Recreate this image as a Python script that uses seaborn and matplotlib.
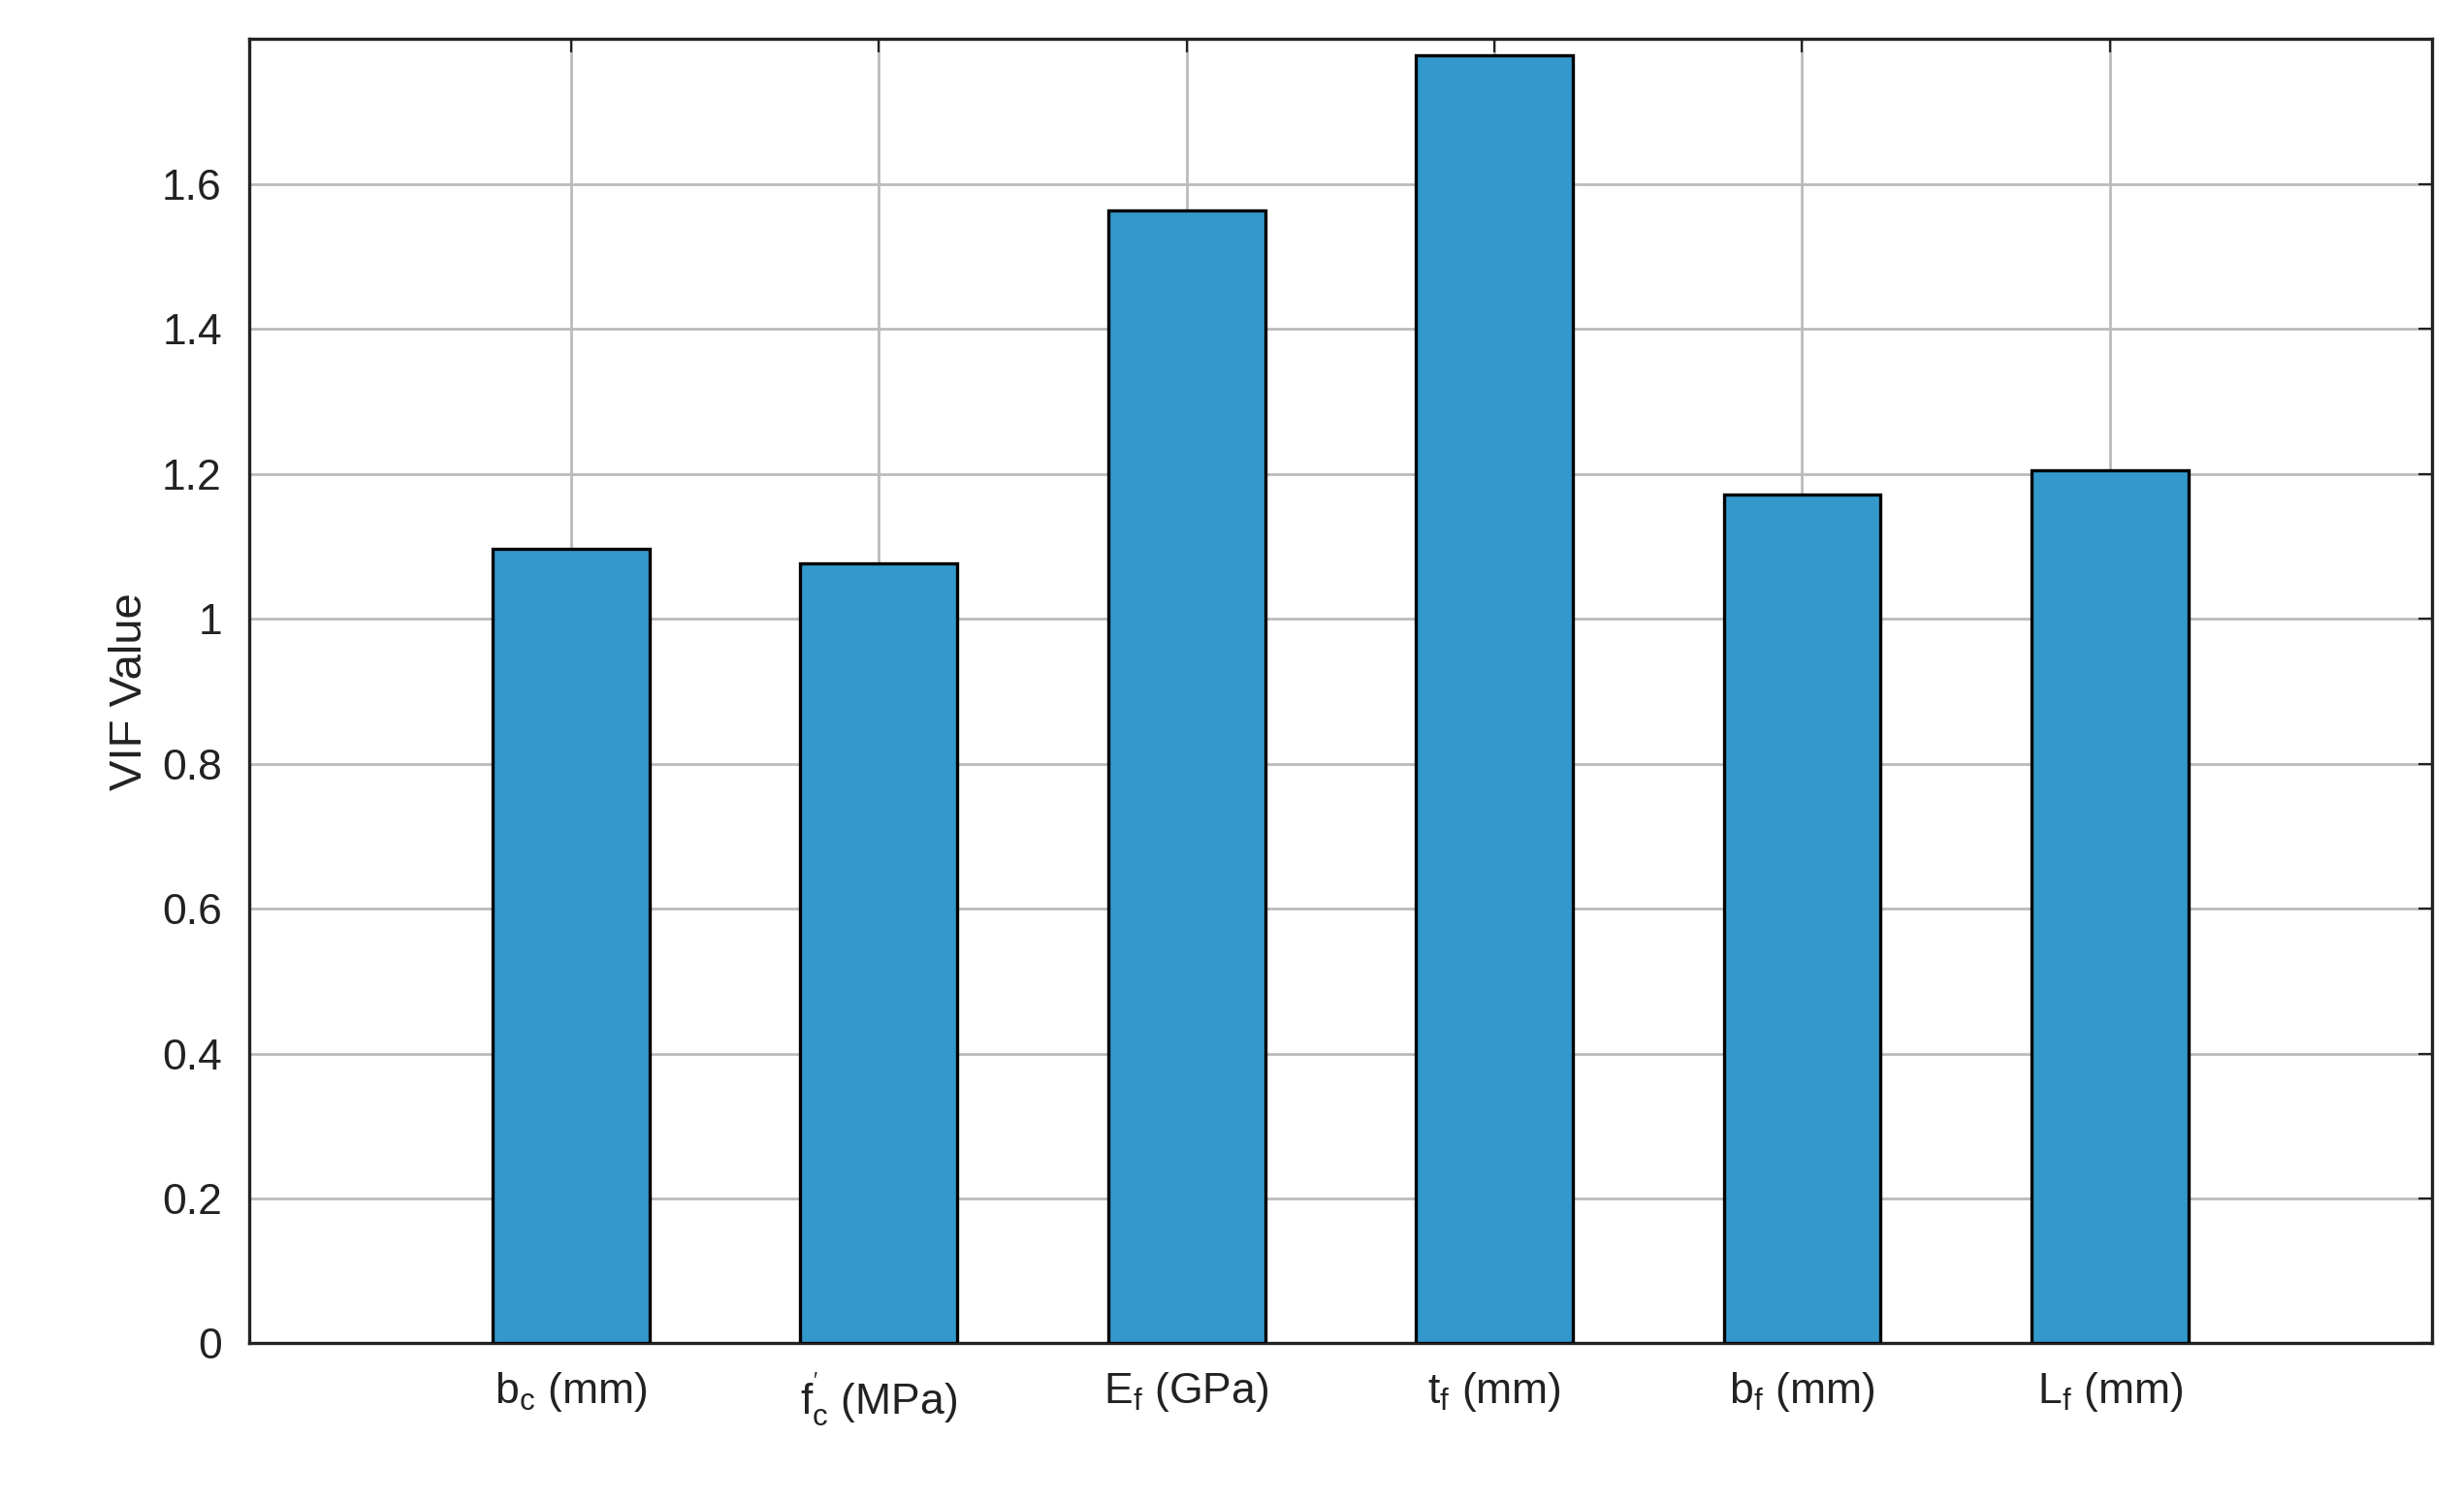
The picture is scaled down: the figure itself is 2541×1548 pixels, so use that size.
import matplotlib
matplotlib.use("Agg")
import matplotlib.pyplot as plt
import seaborn as sns
import pandas as pd

categories = [r"b$_\mathregular{c}$ (mm)", r"f$^{'}_\mathregular{c}$ (MPa)", r"E$_\mathregular{f}$ (GPa)",
              r"t$_\mathregular{f}$ (mm)", r"b$_\mathregular{f}$ (mm)", r"L$_\mathregular{f}$ (mm)"]
vif_values = [1.097, 1.077, 1.563, 1.778, 1.171, 1.205]
yticks = [0, 0.2, 0.4, 0.6, 0.8, 1, 1.2, 1.4, 1.6]
yticklabels = ["0", "0.2", "0.4", "0.6", "0.8", "1", "1.2", "1.4", "1.6"]

sns.set_style("white")
plt.rcParams['font.family'] = ['Liberation Sans', 'DejaVu Sans']
plt.rcParams['mathtext.fontset'] = 'custom'
plt.rcParams['mathtext.rm'] = 'Liberation Sans'
plt.rcParams['mathtext.it'] = 'Liberation Sans'

df = pd.DataFrame({"cat": categories, "vif": vif_values})
fig = plt.figure(figsize=(12.705, 7.74), dpi=200)
ax = fig.add_axes([0.101, 0.105, 0.886, 0.869])
sns.barplot(data=df, x="cat", y="vif", color="#3399cc", saturation=1, width=0.51,
            edgecolor="black", linewidth=1.2, ax=ax, zorder=3)
ax.set_xlim(-1.046, 6.046)
ax.set_ylim(0, 1.8)
ax.set_yticks(yticks)
ax.set_yticklabels(yticklabels)
ax.grid(True, color="#bbbbbb", linewidth=1.0, zorder=0)
ax.set_axisbelow(True)
ax.set_xlabel("")
ax.set_ylabel("VIF Value", fontsize=17, color="#222222")
ax.tick_params(axis="both", direction="in", labelsize=16, colors="#222222", length=5,
               top=True, right=True, pad=10)
for s in ax.spines.values():
    s.set_color("#222222"); s.set_linewidth(1.2)
fig.savefig("out.png", dpi=200)
